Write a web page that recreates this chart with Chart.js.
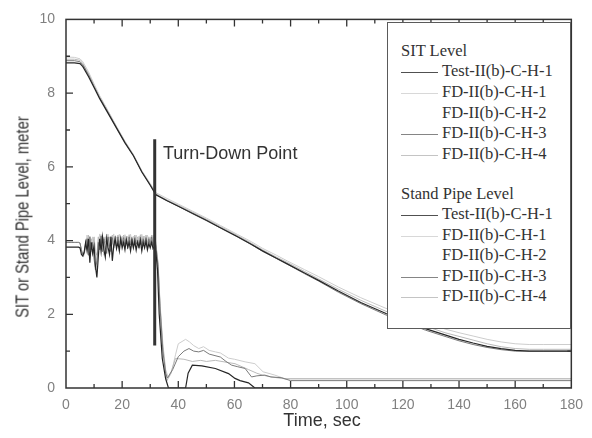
<!DOCTYPE html>
<html>
<head>
<meta charset="utf-8">
<script src="https://cdn.jsdelivr.net/npm/chart.js@4"></script>
<style>
  body { margin: 0; background: #fff; }
  #wrap { position: relative; width: 592px; height: 438px; }
  .txt { position: absolute; font-family: "Liberation Sans", Arial, sans-serif; color: #333; white-space: nowrap; }
  #legend { position: absolute; left: 387px; top: 22px; width: 182px; height: 305px; border: 1px solid #5a5a5a; background: #fff; }
  .lg { position: absolute; font-family: "Liberation Serif", "Times New Roman", serif; font-size: 16.5px; color: #333; white-space: nowrap; line-height: 1; }
  .sw { position: absolute; height: 1px; width: 37px; }
</style>
</head>
<body>
<div id="wrap">
  <canvas id="myChart" width="592" height="438"></canvas>
  <div class="txt" style="left:23px; top:217px; font-size:18px; transform: translate(-50%,-50%) rotate(-90deg) scaleX(0.82);">SIT or Stand Pipe Level, meter</div>
  <div class="txt" style="left:322px; top:420px; font-size:18px; transform: translate(-50%,-50%);">Time, sec</div>
  <div class="txt" style="left:163px; top:153px; font-size:18px; transform: translateY(-50%);">Turn-Down Point</div>
  <div id="legend"></div>
</div>
<script>
// SIT level, sec / meter
const sitT = [0, 3, 5, 6, 8, 10, 12, 15, 18, 21, 24, 27, 30, 32, 36, 40, 45, 50, 55, 61,
    66, 70, 75, 79, 85, 90, 97, 105, 114, 120, 128, 135, 140, 145, 150, 155, 160, 165, 170, 180];
const sitTest = [8.82, 8.82, 8.8, 8.72, 8.45, 8.15, 7.85, 7.45, 7.05, 6.65, 6.3, 5.86, 5.5, 5.24, 5.08, 4.93, 4.74, 4.55, 4.35, 4.11,
    3.9, 3.72, 3.52, 3.36, 3.12, 2.92, 2.63, 2.32, 2.02, 1.85, 1.61, 1.44, 1.32, 1.22, 1.13, 1.07, 1.02, 1.0, 1.0, 1.0];
const sitFd1 = [8.98, 8.97, 8.93, 8.85, 8.58, 8.25, 7.93, 7.52, 7.1, 6.7, 6.34, 5.9, 5.55, 5.3, 5.14, 4.99, 4.8, 4.61, 4.41, 4.17,
    3.97, 3.79, 3.6, 3.44, 3.21, 3.02, 2.74, 2.45, 2.16, 2.0, 1.78, 1.6, 1.5, 1.41, 1.32, 1.25, 1.2, 1.18, 1.18, 1.18];
const sitFd2 = [8.85, 8.85, 8.82, 8.74, 8.47, 8.17, 7.87, 7.47, 7.07, 6.67, 6.3, 5.87, 5.51, 5.25, 5.09, 4.94, 4.75, 4.56, 4.36, 4.12,
    3.91, 3.73, 3.53, 3.37, 3.13, 2.93, 2.64, 2.33, 2.03, 1.86, 1.62, 1.45, 1.33, 1.23, 1.14, 1.08, 1.03, 1.01, 1.01, 1.01];
const sitFd3 = [8.88, 8.88, 8.85, 8.77, 8.5, 8.18, 7.87, 7.47, 7.06, 6.66, 6.31, 5.87, 5.51, 5.25, 5.08, 4.93, 4.73, 4.54, 4.34, 4.1,
    3.89, 3.71, 3.51, 3.35, 3.1, 2.9, 2.6, 2.29, 1.98, 1.81, 1.57, 1.4, 1.28, 1.18, 1.1, 1.04, 1.0, 1.0, 1.0, 1.0];
const sitFd4 = [8.92, 8.92, 8.89, 8.8, 8.52, 8.2, 7.9, 7.5, 7.08, 6.68, 6.32, 5.88, 5.53, 5.27, 5.1, 4.96, 4.77, 4.58, 4.38, 4.14,
    3.93, 3.75, 3.55, 3.4, 3.16, 2.96, 2.68, 2.38, 2.08, 1.91, 1.68, 1.5, 1.4, 1.3, 1.2, 1.12, 1.07, 1.05, 1.05, 1.05];

// Stand pipe level before turn-down (oscillating part)
const noiseT = [0, 0.5, 1, 1.5, 2, 2.5, 3, 3.5,
    4, 4.5, 5, 5.5, 6, 6.5, 7, 7.5,
    8, 8.5, 9, 9.5, 10, 10.5, 11, 11.5,
    12, 12.5, 13, 13.5, 14, 14.5, 15, 15.5,
    16, 16.5, 17, 17.5, 18, 18.5, 19, 19.5,
    20, 20.5, 21, 21.5, 22, 22.5, 23, 23.5,
    24, 24.5, 25, 25.5, 26, 26.5, 27, 27.5,
    28, 28.5, 29, 29.5, 30, 30.5, 31, 31.5];
const spTestNoise = [3.82, 3.82, 3.82, 3.82, 3.82, 3.82, 3.82, 3.82,
    3.82, 3.82, 3.8, 3.62, 3.58, 3.7, 3.95, 3.72,
    4.05, 3.4, 3.95, 3.65, 3.85, 3.3, 3.0, 3.55,
    4.05, 3.7, 4.1, 3.75, 3.55, 4.05, 3.8, 3.62,
    4.1, 3.45, 3.85, 4.05, 3.78, 3.95, 3.72, 4.05,
    3.8, 3.95, 3.75, 4.02, 3.82, 3.95, 3.72, 4.0,
    3.8, 3.98, 3.74, 3.95, 3.82, 4.0, 3.72, 3.95,
    3.8, 3.98, 3.75, 3.92, 3.8, 3.95, 3.78, 3.85];
const spFd1Noise = [3.95, 3.95, 3.95, 3.95, 3.95, 3.95, 3.95, 3.95,
    3.95, 3.95, 3.93, 3.7, 3.57, 3.6, 3.85, 4.15,
    3.8, 4.12, 3.7, 4.1, 3.85, 3.55, 3.4, 3.9,
    4.18, 3.85, 4.15, 3.6, 4.1, 3.9, 4.17, 3.75,
    4.12, 3.9, 4.18, 3.85, 4.1, 3.95, 4.17, 3.9,
    4.12, 3.88, 4.16, 3.95, 4.12, 3.9, 4.17, 3.92,
    4.12, 3.88, 4.15, 3.95, 4.12, 3.9, 4.17, 3.93,
    4.12, 3.9, 4.15, 3.95, 4.1, 3.92, 4.15, 3.95];
const spFd3Noise = [3.95, 3.95, 3.95, 3.95, 3.95, 3.95, 3.95, 3.95,
    3.95, 3.95, 3.93, 3.75, 3.62, 3.65, 3.9, 4.05,
    3.6, 4.1, 3.75, 3.95, 3.5, 3.2, 3.45, 3.95,
    3.75, 4.12, 3.7, 4.05, 3.8, 3.65, 4.1, 3.85,
    3.7, 4.08, 3.8, 4.0, 3.85, 4.1, 3.82, 4.0,
    3.9, 4.08, 3.85, 4.05, 3.78, 4.1, 3.88, 4.05,
    3.82, 4.08, 3.9, 4.02, 3.8, 4.1, 3.85, 4.05,
    3.9, 4.08, 3.82, 4.05, 3.88, 4.1, 3.85, 4.0];
const spFd4Noise = [3.95, 3.95, 3.95, 3.95, 3.95, 3.95, 3.95, 3.95,
    3.95, 3.95, 3.94, 3.72, 3.6, 3.7, 3.95, 3.85,
    4.15, 3.75, 4.05, 3.85, 4.1, 3.7, 3.6, 4.1,
    3.9, 4.16, 3.85, 4.1, 3.95, 4.18, 3.85, 4.1,
    3.9, 4.15, 3.95, 4.12, 3.88, 4.15, 3.95, 4.1,
    3.9, 4.15, 3.98, 4.12, 3.92, 4.16, 3.95, 4.1,
    3.9, 4.15, 3.98, 4.1, 3.92, 4.16, 3.95, 4.12,
    3.9, 4.15, 3.95, 4.1, 3.92, 4.15, 3.95, 4.1];

// Stand pipe level after turn-down
const postTestT = [32, 32.6, 33.2, 34.3, 35.5, 36.5, 42.6, 43.5, 45, 48.4, 53.2, 57.9, 60.2, 62, 65, 67.3, 180];
const postTest = [3.7, 3.2, 2.0, 0.8, 0.25, 0, 0, 0.4, 0.62, 0.6, 0.53, 0.39, 0.26, 0.2, 0.14, 0, 0];
const postFd1T = [32, 32.8, 33.5, 34.5, 35.5, 36.5, 37.5, 39, 40, 42.6, 44, 45.5, 47.3, 49, 51, 53.2, 55, 57.9, 60, 63.8, 67.3, 70.2, 74.4, 78, 180];
const postFd1 = [3.9, 3.4, 2.3, 1.2, 0.5, 0.27, 0.4, 0.9, 1.2, 1.32, 1.25, 1.15, 1.07, 1.12, 1.02, 0.98, 0.95, 0.81, 0.78, 0.71, 0.66, 0.44, 0.35, 0.25, 0.25];
const spFd2T = [0, 5, 6, 8, 31.5, 33.5, 36, 40, 50, 60, 80, 180];
const spFd2 = [3.95, 3.93, 3.6, 4.0, 3.9, 2.2, 0.25, 0.9, 0.85, 0.7, 0.25, 0.25];
const postFd3T = [32, 32.8, 33.5, 34.5, 35.5, 36.1, 38, 40, 42, 43.8, 45.5, 47.3, 49, 51, 55, 57, 59, 61, 63.8, 66.1, 68, 70.8, 73, 76.7, 80, 180];
const postFd3 = [3.85, 3.3, 2.2, 1.0, 0.4, 0.27, 0.5, 0.85, 1.0, 1.07, 1.0, 0.98, 1.02, 0.92, 0.84, 0.72, 0.62, 0.58, 0.53, 0.3, 0.33, 0.35, 0.3, 0.28, 0.2, 0.2];
const postFd4T = [32, 32.8, 33.5, 34.5, 35.5, 36, 37.5, 39, 42, 45, 48, 50, 53.2, 57, 60.2, 65, 68, 70, 73, 78, 180];
const postFd4 = [3.95, 3.35, 2.25, 1.1, 0.45, 0.2, 0.45, 0.8, 0.78, 0.72, 0.75, 0.72, 0.75, 0.7, 0.66, 0.5, 0.4, 0.35, 0.3, 0.25, 0.25];

// Turn-down marker
const turnT = [31.6, 31.6];
const turnV = [1.15, 6.75];

const runNames = ['Test-II(b)-C-H-1', 'FD-II(b)-C-H-1', 'FD-II(b)-C-H-2', 'FD-II(b)-C-H-3', 'FD-II(b)-C-H-4'];
const runColors = ['#262626', '#cdcdcd', '#ffffff', '#7a7a7a', '#bababa'];
const swatchColors = ['#505050', '#d8d8d8', '#ffffff', '#858585', '#c4c4c4'];
const runOrder = [1, 4, 5, 2, 3];

const pts = (ts, vs) => ts.map((t, i) => ({ x: t, y: vs[i] }));

const sitSeries = [sitTest, sitFd1, sitFd2, sitFd3, sitFd4];
const spSeries = [
    pts(noiseT, spTestNoise).concat(pts(postTestT, postTest)),
    pts(noiseT, spFd1Noise).concat(pts(postFd1T, postFd1)),
    pts(spFd2T, spFd2),
    pts(noiseT, spFd3Noise).concat(pts(postFd3T, postFd3)),
    pts(noiseT, spFd4Noise).concat(pts(postFd4T, postFd4))
];

const datasets = [];
runNames.forEach((name, i) => {
    datasets.push({ label: 'SIT ' + name, data: pts(sitT, sitSeries[i]), borderColor: runColors[i],
        borderWidth: i === 0 ? 1.2 : 1, order: runOrder[i] });
    datasets.push({ label: 'SP ' + name, data: spSeries[i], borderColor: runColors[i],
        borderWidth: i === 0 ? 1.2 : 1, order: runOrder[i] });
});
datasets.push({ label: 'Turn-Down', data: pts(turnT, turnV), borderColor: '#333', borderWidth: 3, order: 0 });

// frame with inward ticks on all four sides
const frameTicks = {
    id: 'frameTicks',
    afterDraw(chart) {
        const { ctx, chartArea: a, scales: { x, y } } = chart;
        ctx.save();
        ctx.strokeStyle = '#333';
        ctx.lineWidth = 1.5;
        ctx.strokeRect(a.left, a.top, a.right - a.left, a.bottom - a.top);
        ctx.lineWidth = 1.3;
        ctx.beginPath();
        for (let v = 10; v < 180; v += 10) {
            const px = x.getPixelForValue(v);
            const len = v % 20 === 0 ? 7 : 4;
            ctx.moveTo(px, a.bottom); ctx.lineTo(px, a.bottom - len);
            ctx.moveTo(px, a.top); ctx.lineTo(px, a.top + len);
        }
        for (let v = 1; v < 10; v++) {
            const py = y.getPixelForValue(v);
            const len = v % 2 === 0 ? 7 : 4;
            ctx.moveTo(a.left, py); ctx.lineTo(a.left + len, py);
            ctx.moveTo(a.right, py); ctx.lineTo(a.right - len, py);
        }
        ctx.stroke();
        ctx.restore();
    }
};

var ctx = document.getElementById('myChart').getContext('2d');
var myChart = new Chart(ctx, {
    type: 'line',
    data: { datasets: datasets },
    options: {
        responsive: false,
        animation: false,
        devicePixelRatio: 1,
        layout: { padding: { top: 16, right: 15, left: 0, bottom: 0 } },
        elements: { point: { radius: 0 }, line: { tension: 0 } },
        plugins: { legend: { display: false }, tooltip: { enabled: false } },
        scales: {
            x: {
                type: 'linear', min: 0, max: 180,
                grid: { display: false, drawTicks: false },
                border: { display: false },
                ticks: { stepSize: 20, padding: 9, color: '#808080', maxRotation: 0,
                    font: { family: 'Liberation Sans', size: 14 } },
                afterFit: s => { s.height = 50; }
            },
            y: {
                min: 0, max: 10,
                grid: { display: false, drawTicks: false },
                border: { display: false },
                ticks: { stepSize: 2, padding: 11, color: '#808080',
                    font: { family: 'Liberation Sans', size: 14 } },
                afterFit: s => { s.width = 66; }
            }
        }
    },
    plugins: [frameTicks]
});

// legend box, two groups
const legend = document.getElementById('legend');
const addRow = (text, yc, i) => {
    if (i !== undefined) {
        const sw = document.createElement('div');
        sw.className = 'sw';
        sw.style.left = (401 - 388) + 'px';
        sw.style.top = Math.round(yc - 23) + 'px';
        sw.style.background = swatchColors[i];
        legend.appendChild(sw);
    }
    const t = document.createElement('div');
    t.className = 'lg';
    t.textContent = text;
    t.style.left = (i !== undefined ? 442 - 388 : 401 - 388) + 'px';
    t.style.top = (yc - 23 - 9) + 'px';
    legend.appendChild(t);
};
addRow('SIT Level', 52);
runNames.forEach((n, i) => addRow(n, 72 + i * 20.8, i));
addRow('Stand Pipe Level', 195);
runNames.forEach((n, i) => addRow(n, 215 + i * 20.6, i));
</script>
</body>
</html>
